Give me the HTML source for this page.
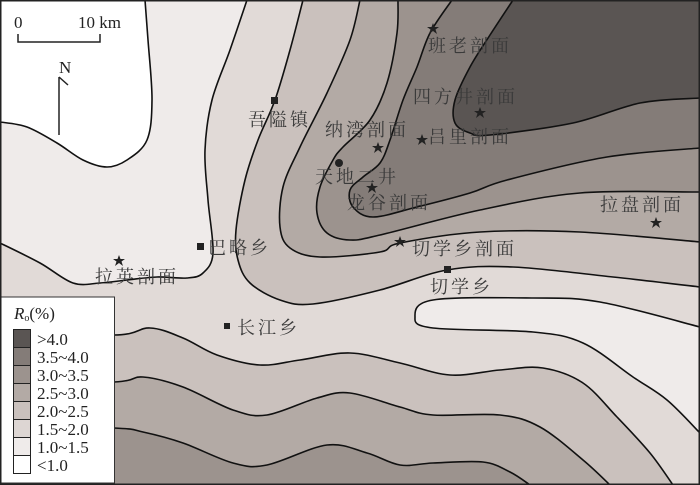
<!DOCTYPE html>
<html><head><meta charset="utf-8"><style>
html,body{margin:0;padding:0;background:#fff;}
svg{display:block;}
text{font-family:"Liberation Serif","Noto Serif CJK SC",serif;}
</style></head><body>
<svg id="s" width="700" height="485" viewBox="0 0 700 485" xmlns="http://www.w3.org/2000/svg">
<rect x="0" y="0" width="700" height="485" fill="#e1dad7"/>
<g id="fills"></g>
<g id="lines" fill="none" stroke="#111" stroke-width="1.6"></g>
<g fill="#222">
<polygon points="433,23 434.5,27 439,27 435.5,29.5 437,34 433,31 429,34 430.5,29.5 427,27 431.5,27"/>
<polygon points="480,107 481.5,111 486,111 482.5,113.5 484,118 480,115 476,118 477.5,113.5 474,111 478.5,111"/>
<polygon points="378,142 379.5,146 384,146 380.5,148.5 382,153 378,150 374,153 375.5,148.5 372,146 376.5,146"/>
<polygon points="422,134 423.5,138 428,138 424.5,140.5 426,145 422,142 418,145 419.5,140.5 416,138 420.5,138"/>
<polygon points="372,182 373.5,186 378,186 374.5,188.5 376,193 372,190 368,193 369.5,188.5 366,186 370.5,186"/>
<polygon points="400,236 401.5,240 406,240 402.5,242.5 404,247 400,244 396,247 397.5,242.5 394,240 398.5,240"/>
<polygon points="656,217 657.5,221 662,221 658.5,223.5 660,228 656,225 652,228 653.5,223.5 650,221 654.5,221"/>
<polygon points="119,255 120.5,259 125,259 121.5,261.5 123,266 119,263 115,266 116.5,261.5 113,259 117.5,259"/>
<rect x="271" y="97" width="7" height="7"/>
<rect x="197" y="243" width="7" height="7"/>
<rect x="444" y="266" width="7" height="7"/>
<rect x="224" y="323" width="6" height="6"/>
<circle cx="339" cy="163" r="4"/>
</g>
<g font-size="18" fill="#3a3a3a" letter-spacing="3">
<text x="428" y="52">班老剖面</text>
<text x="413" y="103">四方井剖面</text>
<text x="248" y="126">吾隘镇</text>
<text x="325" y="136">纳湾剖面</text>
<text x="428" y="143">吕里剖面</text>
<text x="315" y="183">天地二井</text>
<text x="347" y="209">龙谷剖面</text>
<text x="600" y="211">拉盘剖面</text>
<text x="208" y="254">巴略乡</text>
<text x="412" y="255">切学乡剖面</text>
<text x="95" y="283">拉英剖面</text>
<text x="430" y="293">切学乡</text>
<text x="237" y="334">长江乡</text>
</g>
<g stroke="#222" stroke-width="1.5" fill="none">
<polyline points="18,34 18,42 100,42 100,34"/>
<line x1="59" y1="77" x2="59" y2="135"/>
<line x1="59" y1="77" x2="68" y2="85"/>
</g>
<g font-size="17" fill="#222">
<text x="14" y="28">0</text>
<text x="78" y="28">10 km</text>
<text x="59" y="73">N</text>
</g>
<rect x="0.5" y="297" width="114" height="186" fill="#fff" stroke="#333" stroke-width="1"/>
<text x="14" y="319" font-size="17" fill="#222"><tspan font-style="italic">R</tspan><tspan font-size="10" dy="2">o</tspan><tspan dy="-2">(%)</tspan></text>
<g stroke="#222" stroke-width="1">
<rect x="13.5" y="329.5" width="17" height="18" fill="#5a5553"/>
<rect x="13.5" y="347.5" width="17" height="18" fill="#847c78"/>
<rect x="13.5" y="365.5" width="17" height="18" fill="#9c938e"/>
<rect x="13.5" y="383.5" width="17" height="18" fill="#b3aaa5"/>
<rect x="13.5" y="401.5" width="17" height="18" fill="#cac1bd"/>
<rect x="13.5" y="419.5" width="17" height="18" fill="#ddd6d3"/>
<rect x="13.5" y="437.5" width="17" height="18" fill="#efebea"/>
<rect x="13.5" y="455.5" width="17" height="18" fill="#fff"/>
</g>
<g font-size="17" fill="#222">
<text x="37" y="345">&gt;4.0</text>
<text x="37" y="363">3.5~4.0</text>
<text x="37" y="381">3.0~3.5</text>
<text x="37" y="399">2.5~3.0</text>
<text x="37" y="417">2.0~2.5</text>
<text x="37" y="435">1.5~2.0</text>
<text x="37" y="453">1.0~1.5</text>
<text x="37" y="471">&lt;1.0</text>
</g>
<rect x="0.75" y="0.75" width="698.5" height="483.5" fill="none" stroke="#222" stroke-width="1.5"/>
</svg>
<script>
var L={
L1:[[145,0],[148,40],[152,100],[147,140],[127,160],[107,167],[83,160],[57,143],[27,127],[0,122]],
L2:[[247,0],[230,50],[212,100],[205,150],[208,200],[213,253],[203,273],[187,278],[157,277],[127,280],[100,283],[73,283],[40,263],[0,243]],
L3:[[303,0],[290,50],[275,100],[258,140],[245,180],[236,230],[238,260],[250,283],[280,300],[313,304],[380,290],[447,270],[513,267],[613,277],[700,287]],
L4:[[360,0],[350,40],[327,93],[300,147],[283,187],[280,227],[290,248],[320,257],[380,252],[400,243],[480,232],[580,232],[700,242]],
L5:[[398,0],[397,33],[387,83],[370,120],[343,147],[333,160],[320,187],[317,213],[327,233],[350,240],[380,235],[480,210],[580,193],[700,192]],
L6:[[452,0],[430,33],[417,67],[403,100],[390,140],[380,163],[363,177],[350,190],[353,207],[373,217],[417,207],[470,193],[507,180],[607,157],[700,148]],
L7:[[513,0],[490,35],[470,67],[455,100],[455,123],[470,133],[490,135],[573,123],[640,103],[700,98]],
B:[[700,327],[600,302],[533,298],[433,300],[415,317],[433,328],[533,332],[583,343],[633,377],[667,400],[700,433]],
W1:[[0,330],[114,335],[150,328],[183,338],[217,355],[260,365],[300,360],[350,353],[400,363],[450,375],[500,370],[543,368],[583,383],[617,417],[650,453],[673,485]],
W2:[[0,385],[114,382],[143,377],[183,387],[233,410],[267,415],[317,398],[350,393],[400,407],[433,415],[500,415],[540,427],[583,460],[610,485]],
W3:[[0,425],[114,428],[143,432],[183,443],[233,463],[267,465],[327,445],[367,453],[400,465],[433,463],[483,462],[510,472],[530,485]]
};
function cr(p){var d="M"+p[0][0]+","+p[0][1];for(var i=0;i<p.length-1;i++){var a=p[i-1]||p[i],b=p[i],c=p[i+1],e=p[i+2]||c;
var c1x=b[0]+(c[0]-a[0])/6,c1y=b[1]+(c[1]-a[1])/6,c2x=c[0]-(e[0]-b[0])/6,c2y=c[1]-(e[1]-b[1])/6;
d+=" C"+c1x.toFixed(1)+","+c1y.toFixed(1)+" "+c2x.toFixed(1)+","+c2y.toFixed(1)+" "+c[0]+","+c[1];}return d;}
var NS="http://www.w3.org/2000/svg",F=document.getElementById("fills"),G=document.getElementById("lines");
function fill(k,tail,col){var p=document.createElementNS(NS,"path");p.setAttribute("d",cr(L[k])+tail+" Z");p.setAttribute("fill",col);F.appendChild(p);}
fill("L2"," L0,0","#efebea");
fill("L1"," L0,0","#ffffff");
fill("L3"," L700,0","#cac1bd");
fill("L4"," L700,0","#b3aaa5");
fill("L5"," L700,0","#9c938e");
fill("L6"," L700,0","#847c78");
fill("L7"," L700,0","#5a5553");
fill("B","","#efebea");
fill("W1"," L0,485","#cac1bd");
fill("W2"," L0,485","#b3aaa5");
fill("W3"," L0,485","#9c938e");
for(var k in L){var p=document.createElementNS(NS,"path");p.setAttribute("d",cr(L[k]));G.appendChild(p);}
</script>
</body></html>
